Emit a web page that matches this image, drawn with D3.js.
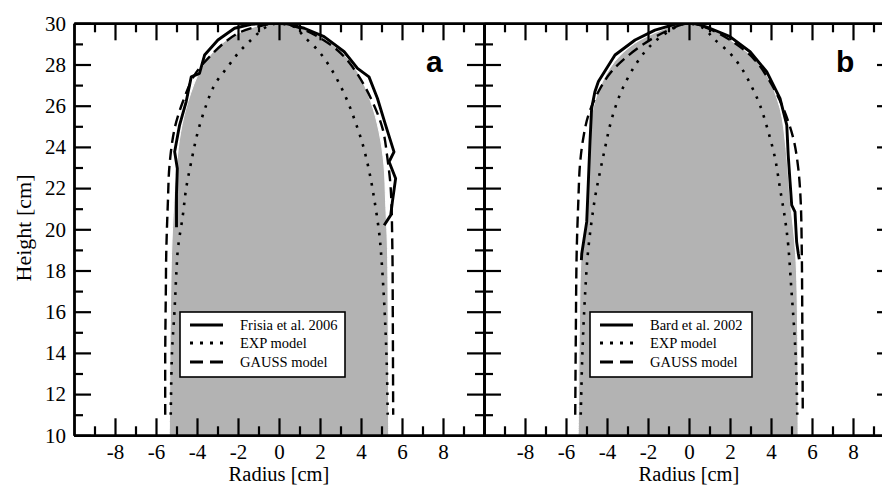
<!DOCTYPE html>
<html>
<head>
<meta charset="utf-8">
<script src="https://cdn.jsdelivr.net/npm/d3@7"></script>
<style>
  html, body { margin: 0; padding: 0; background: #fff; }
  svg { display: block; }
  text { fill: #000; }
</style>
</head>
<body>
<svg id="chart" width="882" height="486"></svg>
<script>
// ---------- data ----------
const xMajorTicks = [-8, -6, -4, -2, 0, 2, 4, 6, 8];
const xMinorTicks = [-9, -7, -5, -3, -1, 1, 3, 5, 7, 9];
const yMajorTicks = [10, 12, 14, 16, 18, 20, 22, 24, 26, 28, 30];
const yMinorTicks = [11, 13, 15, 17, 19, 21, 23, 25, 27, 29];
const panelLetters = ["a", "b"];
const measuredLabels = ["Frisia et al. 2006", "Bard et al. 2002"];
const modelLabels = ["EXP model", "GAUSS model"];
const xAxisTitle = "Radius [cm]";
const yAxisTitle = "Height [cm]";

// stalagmite outline (grey), [radius, height]
const stalagmiteA = [[-5.35,10],[-5.32,14],[-5.28,17],[-5.24,18.84],[-5.13,21.3],[-5.0,23.1],[-4.8,24.7],[-4.44,26.2],[-3.8,27.8],[-2.98,28.86],[-2.0,29.51],[-0.88,29.92],[-0.3,30],[0.42,29.94],[1.88,29.43],[3.02,28.62],[3.83,27.65],[4.48,26.19],[4.88,24.73],[5.12,23.12],[5.2,21.33],[5.29,19.07],[5.33,15],[5.35,10]];
const stalagmiteB = [[-5.4,10],[-5.35,15],[-5.25,18.8],[-5.0,20.7],[-4.86,24],[-4.75,25.54],[-4.36,26.86],[-3.63,28.14],[-2.65,29.03],[-1.35,29.67],[-0.4,30],[0.4,30],[1.02,29.76],[2.81,28.62],[3.79,27.49],[4.44,25.87],[4.73,23.93],[4.93,21.5],[5.2,18.83],[5.3,15],[5.32,10]];

// measured profiles (solid)
const frisia2006 = [[-5.0,20.1],[-5.0,21.7],[-4.96,22.95],[-5.09,23.76],[-4.85,25.06],[-4.53,26.19],[-4.28,27.4],[-3.88,27.57],[-3.63,28.46],[-2.98,29.19],[-2.17,29.76],[-1.36,29.95],[-0.5,30],[0.4,29.97],[1.23,29.76],[2.2,29.35],[3.18,28.62],[3.83,27.81],[4.39,27.4],[4.8,26.36],[5.2,25.06],[5.61,23.76],[5.37,23.28],[5.69,22.47],[5.53,21.33],[5.45,20.69],[5.13,20.2]];
const bard2002 = [[-5.25,18.5],[-5.23,18.83],[-4.99,20.36],[-4.91,22.3],[-4.83,24.25],[-4.75,25.87],[-4.59,26.68],[-4.42,27.17],[-3.61,28.46],[-2.63,29.19],[-1.66,29.67],[-0.52,30],[0.3,30],[1.02,29.76],[2.0,29.35],[2.98,28.62],[3.79,27.65],[4.44,26.36],[4.77,25.06],[4.84,23.6],[4.93,22.3],[5.01,21.17],[5.17,20.85],[5.25,19.39],[5.33,18.83],[5.38,18.55]];

// EXP model (dotted)
const expA = [[-5.28,11],[-5.22,14],[-5.1,16],[-5.0,18],[-4.93,19.07],[-4.69,20.69],[-4.53,21.98],[-4.28,23.28],[-3.96,24.73],[-3.55,26.03],[-3.15,27.0],[-2.5,27.89],[-1.93,28.62],[-1.28,29.27],[-0.72,29.76],[-0.3,29.96],[0.3,29.96],[0.8,29.8],[1.23,29.35],[1.96,28.62],[2.53,27.81],[3.02,26.92],[3.42,26.03],[3.75,25.14],[4.07,24.17],[4.39,22.87],[4.64,21.5],[4.88,19.88],[4.96,19.07],[5.1,17],[5.2,15],[5.27,13],[5.3,11]];
const expB = [[-5.28,11],[-5.2,14],[-5.06,17],[-4.91,19.07],[-4.59,21.5],[-4.34,22.79],[-4.1,23.93],[-3.85,25.06],[-3.53,26.11],[-3.2,26.92],[-2.72,27.81],[-2.15,28.62],[-1.58,29.19],[-1.01,29.59],[-0.4,29.93],[0.3,29.95],[0.8,29.7],[1.19,29.27],[2.0,28.54],[2.57,27.81],[3.06,26.92],[3.46,26.03],[3.87,24.73],[4.2,23.44],[4.44,21.98],[4.68,20.53],[4.84,19.23],[5.0,17],[5.14,15],[5.24,13],[5.28,11]];

// GAUSS model (dashed)
const gaussA = [[-5.55,11],[-5.55,14],[-5.52,17],[-5.5,18.84],[-5.42,21.33],[-5.34,23.12],[-5.09,24.9],[-4.69,26.19],[-4.12,27.49],[-3.31,28.46],[-2.5,29.19],[-1.85,29.59],[-0.88,29.88],[0,30],[0.91,29.8],[2.04,29.27],[3.02,28.54],[3.75,27.65],[4.48,26.36],[5.05,24.9],[5.29,23.44],[5.45,21.98],[5.53,19.07],[5.55,16],[5.57,11]];
const gaussB = [[-5.55,11],[-5.52,15],[-5.48,18.83],[-5.4,21.33],[-5.32,23.12],[-5.16,24.41],[-4.91,25.54],[-4.42,26.68],[-3.85,27.57],[-3.12,28.3],[-2.15,29.03],[-1.17,29.59],[0,30],[0.86,29.78],[2.0,29.19],[3.14,28.3],[3.95,27.17],[4.6,25.87],[5.09,24.41],[5.33,22.96],[5.45,21.33],[5.5,19.07],[5.53,15],[5.55,11]];

// ---------- layout ----------
const SERIF = "Liberation Serif, Times New Roman, DejaVu Serif, serif";
const svg = d3.select("#chart");
const yTop = 23.3, yBottom = 435.3;
const panels = [
  { x0: 74, x1: 484, letter: panelLetters[0], letterX: 426, stal: stalagmiteA, meas: frisia2006, exp: expA, gauss: gaussA,
    measLabel: measuredLabels[0], legend: { x: 180, y: 312, w: 165, h: 65, lx: 190, tx: 240 }, leftLabels: true },
  { x0: 484, x1: 894, letter: panelLetters[1], letterX: 836, stal: stalagmiteB, meas: bard2002, exp: expB, gauss: gaussB,
    measLabel: measuredLabels[1], legend: { x: 590, y: 312, w: 162, h: 65, lx: 600, tx: 650 }, leftLabels: false }
];

const y = d3.scaleLinear().domain([10, 30]).range([yBottom, yTop]);
const fmt = d => String(d);   // plain hyphen minus, like the reference

panels.forEach((p, i) => {
  const x = d3.scaleLinear().domain([-10, 10]).range([p.x0, p.x1]);
  const g = svg.append("g");
  const clipId = "clip" + i;
  svg.append("clipPath").attr("id", clipId).append("rect")
    .attr("x", p.x0).attr("y", yTop).attr("width", p.x1 - p.x0).attr("height", yBottom - yTop);
  const plot = g.append("g").attr("clip-path", `url(#${clipId})`);

  const line = d3.line().x(d => x(d[0])).y(d => y(d[1]));
  const smooth = d3.line().x(d => x(d[0])).y(d => y(d[1])).curve(d3.curveCatmullRom.alpha(0.5));

  // grey stalagmite
  plot.append("path").datum(p.stal)
    .attr("d", d => smooth(d) + "Z")
    .attr("fill", "#b3b3b3").attr("stroke", "#fff").attr("stroke-width", 1);

  // models
  plot.append("path").datum(p.exp).attr("d", smooth)
    .attr("fill", "none").attr("stroke", "#000").attr("stroke-width", 2.6)
    .attr("stroke-dasharray", "2.6 7.4");
  plot.append("path").datum(p.gauss).attr("d", smooth)
    .attr("fill", "none").attr("stroke", "#000").attr("stroke-width", 2.4)
    .attr("stroke-dasharray", "11 6");
  // measured
  plot.append("path").datum(p.meas).attr("d", line)
    .attr("fill", "none").attr("stroke", "#000").attr("stroke-width", 2.9)
    .attr("stroke-linejoin", "round");

  // axes
  const styleAxis = (sel) => {
    sel.attr("font-family", SERIF).attr("font-size", 21);
    sel.selectAll("path.domain").attr("stroke", "#000").attr("stroke-width", 2.4);
    sel.selectAll(".tick line").attr("stroke", "#000").attr("stroke-width", 2.2);
    sel.selectAll(".tick text").attr("fill", "#000");
  };
  // bottom
  g.append("g").attr("transform", `translate(0,${yBottom})`)
    .call(d3.axisBottom(x).tickValues(xMinorTicks).tickSize(-9).tickSizeOuter(0).tickFormat(""))
    .call(styleAxis);
  const bottomMajor = g.append("g").attr("transform", `translate(0,${yBottom})`)
    .call(d3.axisBottom(x).tickValues(xMajorTicks).tickSize(-17).tickSizeOuter(0).tickPadding(10).tickFormat(fmt))
    .call(styleAxis);
  bottomMajor.selectAll(".tick text").attr("y", 23.7).attr("dy", null);
  // top
  g.append("g").attr("transform", `translate(0,${yTop})`)
    .call(d3.axisTop(x).tickValues(xMinorTicks).tickSize(-9).tickSizeOuter(0).tickFormat(""))
    .call(styleAxis);
  g.append("g").attr("transform", `translate(0,${yTop})`)
    .call(d3.axisTop(x).tickValues(xMajorTicks).tickSize(-17).tickSizeOuter(0).tickFormat(""))
    .call(styleAxis);
  // left
  g.append("g").attr("transform", `translate(${p.x0},0)`)
    .call(d3.axisLeft(y).tickValues(yMinorTicks).tickSize(-9).tickSizeOuter(0).tickFormat(""))
    .call(styleAxis);
  g.append("g").attr("transform", `translate(${p.x0},0)`)
    .call(d3.axisLeft(y).tickValues(yMajorTicks).tickSize(-17).tickSizeOuter(0).tickPadding(8)
      .tickFormat(p.leftLabels ? fmt : ""))
    .call(styleAxis);
  // right
  g.append("g").attr("transform", `translate(${p.x1},0)`)
    .call(d3.axisRight(y).tickValues(yMinorTicks).tickSize(-9).tickSizeOuter(0).tickFormat(""))
    .call(styleAxis);
  g.append("g").attr("transform", `translate(${p.x1},0)`)
    .call(d3.axisRight(y).tickValues(yMajorTicks.slice(1, -1)).tickSize(-17).tickSizeOuter(0).tickFormat(""))
    .call(styleAxis);

  // axis title
  g.append("text").attr("x", x(0)).attr("y", 480.5).attr("text-anchor", "middle")
    .attr("font-family", SERIF).attr("font-size", 20.5).text(xAxisTitle);

  // panel letter
  g.append("text").attr("x", p.letterX).attr("y", 72)
    .attr("font-family", "Liberation Sans, Arial, sans-serif").attr("font-weight", "bold")
    .attr("font-size", 30).attr("fill", "#111").text(p.letter);

  // legend
  const L = p.legend;
  const lg = g.append("g");
  lg.append("rect").attr("x", L.x).attr("y", L.y).attr("width", L.w).attr("height", L.h)
    .attr("fill", "#fff").attr("stroke", "#000").attr("stroke-width", 1.6);
  const entries = [
    { label: p.measLabel, dash: null, w: 3 },
    { label: modelLabels[0], dash: "3 7", w: 3 },
    { label: modelLabels[1], dash: "13 7", w: 3 }
  ];
  const rowY = [L.y + 13, L.y + 31, L.y + 50];
  entries.forEach((e, k) => {
    lg.append("line").attr("x1", L.lx).attr("x2", L.lx + 33).attr("y1", rowY[k]).attr("y2", rowY[k])
      .attr("stroke", "#000").attr("stroke-width", e.w).attr("stroke-dasharray", e.dash);
    lg.append("text").attr("x", L.tx).attr("y", rowY[k] + 5)
      .attr("font-family", SERIF).attr("font-size", 14.5).text(e.label);
  });
});

// y axis title
svg.append("text").attr("transform", "translate(31,228) rotate(-90)").attr("text-anchor", "middle")
  .attr("font-family", SERIF).attr("font-size", 22).text(yAxisTitle);
</script>
</body>
</html>
